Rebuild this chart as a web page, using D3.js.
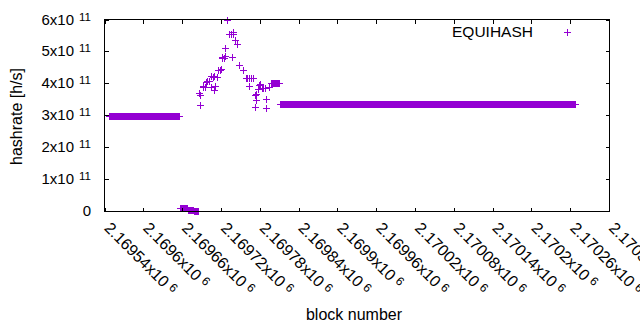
<!DOCTYPE html>
<html>
<head>
<meta charset="utf-8">
<script src="https://cdn.jsdelivr.net/npm/d3@7"></script>
<style>
  html, body { margin: 0; padding: 0; background: #fff; }
  svg { display: block; font-family: "Liberation Sans", Arial, sans-serif; }
</style>
</head>
<body>
<svg id="chart" width="640" height="330"></svg>
<script>
// ---- data ----
const seriesName = "EQUIHASH";

// runs of consecutive blocks sharing (about) the same hashrate: [firstBlock, lastBlock, hashrate]
const runStart = [2169547, 2169656, 2169669, 2169678, 2169798, 2169811];
const runEnd   = [2169655, 2169668, 2169677, 2169685, 2169810, 2170268];
const runValue = [2.97e11, 0.09e11, 0.045e11, 0.01e11, 4.02e11, 3.34e11];

// individually scattered blocks in the transition region
const scatterBlock = [
  2169686, 2169687, 2169688, 2169692, 2169693, 2169695, 2169697, 2169699, 2169701,
  2169704, 2169705, 2169707, 2169709, 2169710, 2169711, 2169714, 2169716, 2169718,
  2169720, 2169721, 2169722, 2169724, 2169726, 2169727, 2169729, 2169732, 2169733,
  2169735, 2169736, 2169737, 2169738, 2169739, 2169742, 2169745, 2169748, 2169754,
  2169758, 2169760, 2169763, 2169764, 2169766, 2169769, 2169772, 2169773, 2169774,
  2169775, 2169777, 2169779, 2169780, 2169783, 2169785, 2169788, 2169789, 2169790,
  2169795
];
const scatterValue = [
  3.71e11, 3.31e11, 3.65e11, 3.90e11, 3.92e11, 3.90e11, 4.05e11, 4.08e11, 4.06e11,
  3.88e11, 4.22e11, 4.21e11, 4.22e11, 3.78e11, 3.91e11, 4.20e11, 4.43e11, 4.42e11,
  4.45e11, 4.80e11, 4.83e11, 4.80e11, 4.85e11, 5.10e11, 5.98e11, 5.55e11, 5.55e11,
  5.56e11, 5.54e11, 4.83e11, 5.62e11, 5.55e11, 5.37e11, 5.24e11, 4.57e11, 4.41e11,
  4.17e11, 4.18e11, 4.17e11, 3.92e11, 4.18e11, 4.17e11, 3.63e11, 3.26e11, 3.68e11,
  3.49e11, 3.83e11, 3.94e11, 3.99e11, 3.84e11, 3.85e11, 3.84e11, 3.23e11, 3.50e11,
  3.88e11
];

const xTicks = [2169540, 2169600, 2169660, 2169720, 2169780, 2169840, 2169900,
                2169960, 2170020, 2170080, 2170140, 2170200, 2170260, 2170320];
const xTickLabels = ["2.16954", "2.1696", "2.16966", "2.16972", "2.16978", "2.16984", "2.1699",
                     "2.16996", "2.17002", "2.17008", "2.17014", "2.1702", "2.17026", "2.17032"];
const xTickExp = "6";
const yTicks = [0, 1e11, 2e11, 3e11, 4e11, 5e11, 6e11];
const yTickLabels = ["0", "1", "2", "3", "4", "5", "6"];
const yTickExp = "11";

// ---- build point list ----
const points = [];
runStart.forEach((s, i) => {
  for (let b = s; b <= runEnd[i]; b++) points.push({ block: b, value: runValue[i] });
});
scatterBlock.forEach((b, i) => points.push({ block: b, value: scatterValue[i] }));

// ---- layout ----
const svg = d3.select("#chart");
const pLeft = 104.5, pRight = 609.5, pTop = 19.5, pBottom = 211.5;
const color = "#9400d3";

const x = d3.scaleLinear().domain([2169540, 2170320]).range([pLeft, pRight - 0.5]);
const y = d3.scaleLinear().domain([0, 6e11]).range([pBottom - 0.5, pTop]);

const plus = "M-3.5,0H3.5M0,-3.5V3.5";

// points
svg.append("g")
  .selectAll("path")
  .data(points)
  .join("path")
  .attr("d", plus)
  .attr("transform", d => `translate(${Math.round(x(d.block)) + 0.5},${Math.round(y(d.value)) + 0.5})`)
  .attr("fill", "none")
  .attr("stroke", color)
  .attr("stroke-width", 1)
  .attr("shape-rendering", "crispEdges");

// axes (ticks inward on all sides)
const tickLen = 4;
const axB = d3.axisBottom(x).tickValues(xTicks).tickSize(-tickLen).tickFormat("");
const axT = d3.axisTop(x).tickValues(xTicks).tickSize(-tickLen).tickFormat("");
const axL = d3.axisLeft(y).tickValues(yTicks).tickSize(-tickLen).tickFormat("");
const axR = d3.axisRight(y).tickValues(yTicks).tickSize(-tickLen).tickFormat("");

function styleAxis(g) {
  g.select(".domain").remove();
  g.selectAll("line").attr("stroke", "#000").attr("shape-rendering", "crispEdges");
}
svg.append("g").attr("transform", `translate(0,${pBottom})`).call(axB).call(styleAxis);
svg.append("g").attr("transform", `translate(0,${pTop})`).call(axT).call(styleAxis);
svg.append("g").attr("transform", `translate(${pLeft},0)`).call(axL).call(styleAxis);
svg.append("g").attr("transform", `translate(${pRight},0)`).call(axR).call(styleAxis);

// border
svg.append("rect")
  .attr("x", pLeft).attr("y", pTop)
  .attr("width", pRight - pLeft).attr("height", pBottom - pTop)
  .attr("fill", "none").attr("stroke", "#000").attr("stroke-width", 1)
  .attr("shape-rendering", "crispEdges");

// y tick labels
yTicks.forEach((v, i) => {
  const t = svg.append("text")
    .attr("x", 91).attr("y", y(v) + 5)
    .attr("text-anchor", "end")
    .attr("font-size", 15)
    .attr("fill", "#000");
  if (v === 0) {
    t.text(yTickLabels[i]);
  } else {
    t.append("tspan").text(yTickLabels[i] + "x10");
    t.append("tspan").attr("dx", 5).attr("dy", -4).attr("font-size", 11.5).text(yTickExp);
  }
});

// x tick labels (rotated 45 deg)
xTicks.forEach((v, i) => {
  const px = x(v) - 1, py = 229;
  const t = svg.append("text")
    .attr("transform", `translate(${px},${py}) rotate(45)`)
    .attr("text-anchor", "start")
    .attr("font-size", 16)
    .attr("fill", "#000");
  t.append("tspan").text(xTickLabels[i] + "x10");
  t.append("tspan").attr("dx", 4).attr("dy", -4).attr("font-size", 12).text(xTickExp);
});

// axis titles
svg.append("text")
  .attr("x", 354).attr("y", 320)
  .attr("text-anchor", "middle")
  .attr("font-size", 16)
  .text("block number");

svg.append("text")
  .attr("transform", `translate(21.5,116.5) rotate(-90)`)
  .attr("text-anchor", "middle")
  .attr("font-size", 16)
  .text("hashrate [h/s]");

// legend
svg.append("text")
  .attr("x", 533).attr("y", 37)
  .attr("text-anchor", "end")
  .attr("font-size", 15.5)
  .text(seriesName);
svg.append("path")
  .attr("d", plus)
  .attr("transform", "translate(567.5,32.5)")
  .attr("fill", "none").attr("stroke", color).attr("stroke-width", 1)
  .attr("shape-rendering", "crispEdges");
</script>
</body>
</html>
